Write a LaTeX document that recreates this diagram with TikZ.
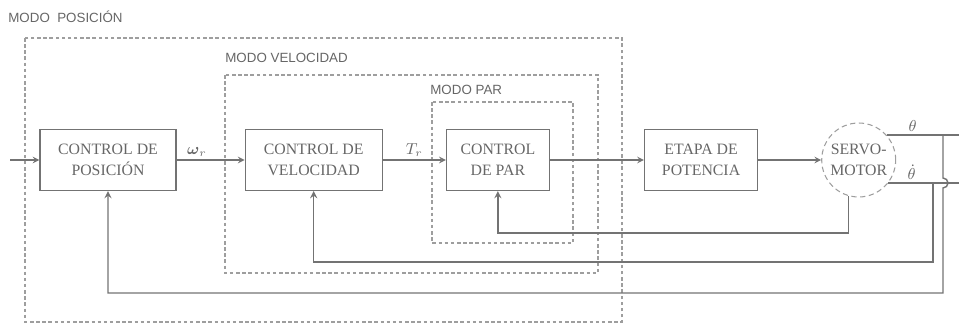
\documentclass[tikz,border=0pt]{standalone}
\usepackage{fontspec}
\setmainfont{Liberation Serif}
\newfontfamily\modofont{Liberation Sans}
\usepackage{amsmath}
\usepackage{amssymb}
\usepackage{xcolor}
\usetikzlibrary{shapes,arrows,positioning}
\definecolor{linea}{gray}{0.45}
\definecolor{trazo}{gray}{0.62}
\definecolor{texto}{gray}{0.4}
\tikzset{
	>=stealth,
	bloque/.style={rectangle, draw=linea, line width=0.7pt, minimum height=1.22cm, font=\fontsize{9}{12}\selectfont, text=texto, align=center, inner sep=2pt},
	motorbox/.style={circle, draw=trazo, densely dashed, line width=0.6pt, minimum size=1.48cm, font=\fontsize{9}{12}\selectfont, text=texto, align=center, inner sep=0pt},
	senal/.style={draw=linea, line width=0.7pt},
	realim/.style={draw=linea, line width=0.8pt},
	modo/.style={draw=trazo, line width=0.6pt, dash pattern=on 2pt off 1.5pt},
	modotxt/.style={font=\modofont\fontsize{7.6}{9}\selectfont, text=texto, anchor=west, inner sep=0pt},
	etiq/.style={font=\fontsize{9}{10}\selectfont, text=texto, inner sep=1.5pt}
}
\begin{document}
\begin{tikzpicture}[x=0.02cm, y=-0.02cm]
	\useasboundingbox (0,0) rectangle (959,327);

	% --- Modes ---
	\draw[modo] (25,38) rectangle (622,322);
	\draw[modo] (225,75) rectangle (598,273);
	\draw[modo] (432,102) rectangle (573,243);
	\node[modotxt] (mpos) at (8,17) {MODO\ \ POSICIÓN};
	\node[modotxt] (mvel) at (225,58) {MODO VELOCIDAD};
	\node[modotxt] (mpar) at (430,90) {MODO PAR};

	% --- Blocks ---
	\node[bloque, minimum width=2.72cm] (pos) at (108,160) {CONTROL DE\\POSICIÓN};
	\node[bloque, minimum width=2.74cm, right=1.36cm of pos] (vel) {CONTROL DE\\VELOCIDAD};
	\node[bloque, minimum width=2.06cm, right=1.26cm of vel] (par) {CONTROL\\DE PAR};
	\node[bloque, minimum width=2.26cm, right=1.88cm of par] (etapa) {ETAPA DE\\POTENCIA};
	\node[motorbox, right=1.26cm of etapa] (motor) {SERVO-\\MOTOR};

	\coordinate (entrada) at (10,160);
	\coordinate (salida) at (959,0);
	\coordinate (rp) at (943,0);
	\coordinate (rv) at (933,0);
	\coordinate (salto) at (0,178);
	\coordinate (fondoPos) at (0,293);
	\coordinate (fondoVel) at (0,262);
	\coordinate (fondoPar) at (0,233);

	% --- Forward path ---
	\draw[senal, ->] (entrada) -- (pos.west);
	\draw[senal, ->] (pos) -- node[pos=0.3, above, etiq] {$\boldsymbol{\omega}_r$} (vel);
	\draw[senal, ->] (vel) -- node[midway, above, etiq] {$T_r$} (par);
	\draw[senal, ->] (par) -- (etapa);
	\draw[senal, ->] (etapa) -- (motor);
	\draw[senal] (motor.42) -- node[pos=0.36, above, etiq] {$\theta$} (motor.42 -| salida);
	\draw[senal] (motor.-38) -- node[pos=0.33, above, etiq] {$\dot{\theta}$} (motor.-38 -| salida);

	% --- Feedback ---
	\draw[realim, ->] (motor.-106) -- (motor.-106 |- fondoPar) -| (par.south);
	\draw[realim, ->] (motor.-38 -| rv) -- (rv |- fondoVel) -| (vel.south);
	\draw[realim, ->] (motor.42 -| rp) -- (rp |- salto) arc[start angle=-90, end angle=90, radius=5] -- (rp |- fondoPos) -| (pos.south);

\end{tikzpicture}
\end{document}
